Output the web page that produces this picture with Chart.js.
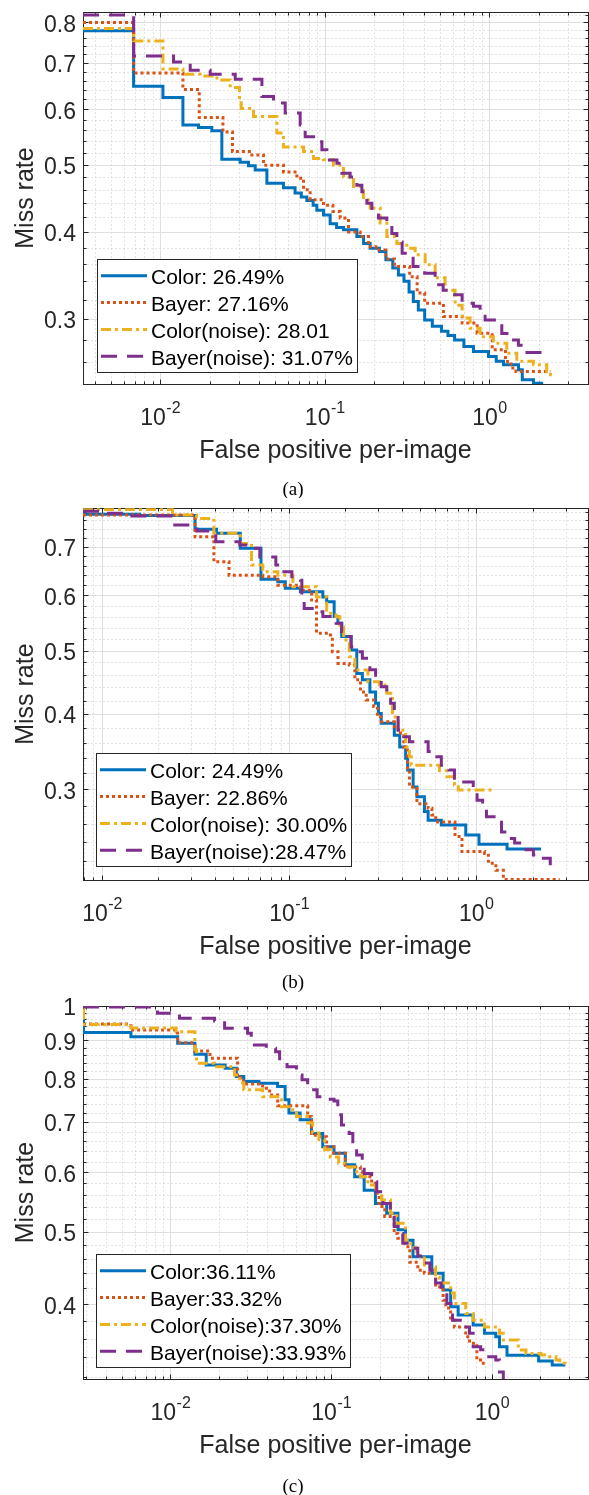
<!DOCTYPE html>
<html>
<head>
<meta charset="utf-8">
<title>Miss rate vs false positives per image</title>
<script src="https://cdn.jsdelivr.net/npm/chart.js@4.4.1/dist/chart.umd.min.js"></script>
<style>
  html, body { margin: 0; padding: 0; background: #fff; }
  body { width: 589px; height: 1495px; position: relative; overflow: hidden; }
  canvas { position: absolute; left: 0; }
</style>
</head>
<body>
<canvas id="chartA" width="589" height="498" style="top:0px"></canvas>
<canvas id="chartB" width="589" height="498" style="top:498px"></canvas>
<canvas id="chartC" width="589" height="499" style="top:996px"></canvas>
<script>
// ==============================================
// DATA  [false positives per image, miss rate]
// ==============================================
const A_COLOR = [[0.0034,0.778],[0.0069,0.648],[0.0104,0.624],[0.01375,0.570],[0.0171,0.565],[0.0206,0.559],[0.0237,0.509],[0.0306,0.504],[0.0344,0.498],[0.0378,0.491],[0.0445,0.470],[0.0561,0.463],[0.066,0.455],[0.072,0.449],[0.0778,0.444],[0.085,0.437],[0.0895,0.430],[0.0982,0.423],[0.1078,0.411],[0.118,0.406],[0.1299,0.403],[0.1566,0.394],[0.172,0.385],[0.1887,0.379],[0.2151,0.375],[0.235,0.365],[0.2588,0.355],[0.28,0.347],[0.3027,0.340],[0.325,0.328],[0.345,0.318],[0.37,0.309],[0.4043,0.299],[0.45,0.293],[0.512,0.288],[0.56,0.284],[0.6146,0.280],[0.70,0.274],[0.80,0.2695],[0.987,0.265],[1.10,0.261],[1.218,0.258],[1.502,0.2537],[1.584,0.2454],[1.853,0.2427],[2.12,0.2427]];
const A_BAYER = [[0.0034,0.800],[0.0069,0.677],[0.01375,0.641],[0.01728,0.584],[0.02406,0.557],[0.02751,0.522],[0.03608,0.516],[0.04244,0.499],[0.0561,0.488],[0.0677,0.478],[0.0743,0.460],[0.0815,0.445],[0.0982,0.437],[0.112,0.428],[0.1241,0.419],[0.1393,0.400],[0.164,0.394],[0.1842,0.381],[0.2043,0.377],[0.235,0.366],[0.2653,0.357],[0.3277,0.345],[0.3639,0.327],[0.4043,0.316],[0.5257,0.3025],[0.6828,0.296],[0.842,0.2863],[1.04,0.2711],[1.251,0.2607],[1.352,0.2551],[1.45,0.2522],[2.346,0.2522]];
const A_COLOR_NOISE = [[0.0034,0.784],[0.0069,0.752],[0.0104,0.686],[0.01375,0.674],[0.01752,0.670],[0.02213,0.661],[0.02664,0.645],[0.03034,0.619],[0.03107,0.602],[0.0369,0.586],[0.05118,0.555],[0.0561,0.530],[0.0743,0.522],[0.0854,0.510],[0.0982,0.508],[0.1129,0.499],[0.1299,0.480],[0.1493,0.465],[0.1718,0.445],[0.1887,0.433],[0.217,0.412],[0.2382,0.394],[0.274,0.385],[0.3151,0.379],[0.3539,0.371],[0.4071,0.359],[0.4681,0.344],[0.5383,0.330],[0.6189,0.314],[0.6828,0.301],[0.7636,0.291],[0.878,0.283],[1.057,0.277],[1.275,0.268],[1.467,0.261],[1.85,0.258],[2.231,0.252],[2.35,0.2495],[2.403,0.2495]];
const A_BAYER_NOISE = [[0.0034,0.820],[0.0069,0.716],[0.01206,0.702],[0.01523,0.683],[0.02014,0.674],[0.02858,0.663],[0.04151,0.626],[0.04882,0.613],[0.05749,0.593],[0.07089,0.570],[0.07603,0.548],[0.0895,0.539],[0.09603,0.525],[0.103,0.5075],[0.1185,0.502],[0.127,0.486],[0.1426,0.480],[0.1566,0.467],[0.168,0.457],[0.1802,0.440],[0.1932,0.428],[0.2119,0.419],[0.2382,0.409],[0.2555,0.398],[0.274,0.387],[0.2951,0.373],[0.344,0.357],[0.4043,0.349],[0.4681,0.336],[0.5235,0.330],[0.5855,0.325],[0.6828,0.316],[0.7996,0.313],[0.878,0.306],[0.9417,0.299],[1.129,0.296],[1.189,0.286],[1.368,0.280],[1.5,0.275],[1.647,0.2686],[2.336,0.2686]];

const B_COLOR = [[0.00791,0.774],[0.0159,0.771],[0.0314,0.739],[0.0409,0.730],[0.0548,0.697],[0.0707,0.632],[0.087,0.627],[0.0954,0.614],[0.1148,0.607],[0.1514,0.597],[0.1587,0.588],[0.174,0.560],[0.1822,0.548],[0.1909,0.524],[0.2143,0.501],[0.2298,0.462],[0.2462,0.452],[0.2701,0.433],[0.2897,0.416],[0.30,0.401],[0.3105,0.387],[0.3648,0.370],[0.39,0.354],[0.4194,0.339],[0.43,0.324],[0.4599,0.303],[0.4818,0.291],[0.5284,0.274],[0.5531,0.264],[0.6506,0.2586],[0.8788,0.2476],[1.034,0.2376],[1.461,0.2327],[2.218,0.2327]];
const B_BAYER = [[0.00791,0.772],[0.0314,0.722],[0.0396,0.668],[0.0477,0.640],[0.0723,0.637],[0.087,0.620],[0.1148,0.610],[0.1319,0.591],[0.14,0.530],[0.1663,0.524],[0.1702,0.498],[0.1824,0.4785],[0.2096,0.4757],[0.2245,0.452],[0.2406,0.433],[0.2581,0.421],[0.283,0.411],[0.2962,0.396],[0.3105,0.389],[0.3648,0.382],[0.3823,0.373],[0.4096,0.354],[0.4292,0.324],[0.4394,0.303],[0.4818,0.283],[0.5531,0.2775],[0.5796,0.270],[0.6073,0.262],[0.77,0.246],[0.8386,0.230],[1.108,0.228],[1.161,0.218],[1.273,0.211],[1.396,0.202],[2.793,0.202]];
const B_COLOR_NOISE = [[0.00791,0.785],[0.0238,0.772],[0.032,0.764],[0.0396,0.730],[0.0548,0.707],[0.0629,0.661],[0.0723,0.647],[0.087,0.640],[0.1047,0.617],[0.140,0.597],[0.1587,0.566],[0.1781,0.5596],[0.1867,0.541],[0.1954,0.518],[0.2096,0.4895],[0.2245,0.4676],[0.2638,0.449],[0.3033,0.4438],[0.3325,0.431],[0.3567,0.396],[0.3823,0.377],[0.4194,0.354],[0.4394,0.341],[0.4492,0.330],[0.6356,0.323],[0.6971,0.3156],[0.7647,0.3053],[0.8012,0.2992],[1.215,0.2992]];
const B_BAYER_NOISE = [[0.00791,0.781],[0.00972,0.776],[0.01406,0.770],[0.02447,0.749],[0.0321,0.735],[0.04055,0.711],[0.05451,0.704],[0.06164,0.697],[0.06969,0.678],[0.08489,0.661],[0.08921,0.647],[0.1034,0.637],[0.1148,0.630],[0.1169,0.601],[0.1203,0.575],[0.1382,0.569],[0.1514,0.560],[0.1781,0.548],[0.1909,0.533],[0.2,0.524],[0.2143,0.506],[0.2298,0.498],[0.2462,0.487],[0.2701,0.468],[0.2897,0.457],[0.3105,0.441],[0.3325,0.433],[0.3485,0.416],[0.3648,0.401],[0.3823,0.377],[0.4096,0.368],[0.4394,0.361],[0.5531,0.348],[0.5933,0.341],[0.6506,0.330],[0.7145,0.324],[0.7647,0.309],[0.9637,0.301],[1.01,0.287],[1.082,0.279],[1.134,0.268],[1.301,0.264],[1.364,0.251],[1.461,0.244],[1.604,0.239],[1.844,0.232],[2.02,0.2265],[2.218,0.223],[2.487,0.216]];

const C_COLOR = [[0.00286,0.960],[0.00288,0.922],[0.00568,0.910],[0.0111,0.892],[0.0142,0.862],[0.0167,0.834],[0.0219,0.826],[0.0257,0.805],[0.0286,0.793],[0.0355,0.789],[0.0464,0.781],[0.0517,0.750],[0.0546,0.720],[0.0641,0.705],[0.0754,0.676],[0.0886,0.649],[0.1041,0.636],[0.1224,0.614],[0.140,0.592],[0.1603,0.568],[0.1884,0.545],[0.2213,0.529],[0.2602,0.503],[0.2897,0.487],[0.3227,0.463],[0.4224,0.440],[0.4967,0.418],[0.5533,0.397],[0.6161,0.387],[0.7637,0.3755],[0.8982,0.366],[1.056,0.362],[1.113,0.351],[1.24,0.342],[1.95,0.336],[2.37,0.332],[2.86,0.332]];
const C_BAYER = [[0.00286,0.946],[0.00568,0.929],[0.01107,0.893],[0.01419,0.871],[0.01762,0.852],[0.02617,0.802],[0.02851,0.787],[0.03746,0.777],[0.04141,0.761],[0.04644,0.736],[0.0714,0.712],[0.07539,0.676],[0.07962,0.669],[0.09348,0.649],[0.1036,0.636],[0.1224,0.610],[0.1518,0.601],[0.156,0.592],[0.1785,0.580],[0.1884,0.5625],[0.1987,0.540],[0.2153,0.524],[0.2464,0.497],[0.2594,0.490],[0.2897,0.4775],[0.3082,0.455],[0.3456,0.444],[0.3794,0.440],[0.4461,0.422],[0.4967,0.405],[0.5164,0.3955],[0.5533,0.381],[0.5833,0.373],[0.686,0.362],[0.7244,0.355],[0.8053,0.337],[0.8503,0.3337],[0.9229,0.3337]];
const C_COLOR_NOISE = [[0.00286,0.988],[0.00288,0.945],[0.00568,0.935],[0.01085,0.924],[0.01419,0.874],[0.01454,0.839],[0.01882,0.830],[0.02506,0.809],[0.02694,0.790],[0.0286,0.773],[0.03746,0.757],[0.04644,0.750],[0.04896,0.734],[0.05461,0.727],[0.0608,0.712],[0.0714,0.698],[0.0767,0.677],[0.08395,0.663],[0.09111,0.643],[0.09872,0.629],[0.1113,0.617],[0.1224,0.610],[0.14,0.601],[0.1518,0.592],[0.1688,0.577],[0.1884,0.565],[0.2063,0.551],[0.2336,0.529],[0.2557,0.513],[0.2897,0.487],[0.3126,0.476],[0.3406,0.464],[0.3794,0.449],[0.4461,0.435],[0.4705,0.427],[0.5533,0.414],[0.5833,0.401],[0.686,0.389],[0.7637,0.381],[0.8982,0.373],[1.113,0.366],[1.176,0.3585],[1.458,0.3476],[1.626,0.344],[2.016,0.3423],[2.126,0.3405],[2.5,0.337],[2.636,0.3337],[2.86,0.332]];
const C_BAYER_NOISE = [[0.00286,0.997],[0.00831,0.978],[0.01139,0.963],[0.01882,0.955],[0.02173,0.934],[0.0302,0.920],[0.03184,0.887],[0.03948,0.878],[0.04512,0.869],[0.04778,0.843],[0.05313,0.830],[0.0608,0.809],[0.06589,0.797],[0.0714,0.773],[0.08172,0.757],[0.08855,0.751],[0.1041,0.747],[0.1099,0.716],[0.1159,0.694],[0.1293,0.676],[0.1363,0.656],[0.1439,0.633],[0.156,0.617],[0.1603,0.598],[0.1785,0.583],[0.192,0.565],[0.2099,0.545],[0.2336,0.529],[0.2464,0.508],[0.2602,0.497],[0.2787,0.4825],[0.3059,0.475],[0.3456,0.464],[0.3794,0.454],[0.4111,0.444],[0.4461,0.427],[0.4834,0.418],[0.5238,0.401],[0.5684,0.381],[0.6495,0.373],[0.7244,0.366],[0.7637,0.351],[0.8503,0.348],[0.9229,0.3405],[1.056,0.337],[1.113,0.325],[1.176,0.316]];

const LEGEND_A = ['Color: 26.49%', 'Bayer: 27.16%', 'Color(noise): 28.01', 'Bayer(noise): 31.07%'];
const LEGEND_B = ['Color: 24.49%', 'Bayer: 22.86%', 'Color(noise): 30.00%', 'Bayer(noise):28.47%'];
const LEGEND_C = ['Color:36.11%', 'Bayer:33.32%', 'Color(noise):37.30%', 'Bayer(noise):33.93%'];

const X_TICKS = [0.01, 0.1, 1];
const X_TICK_EXP = ['-2', '-1', '0'];
const A_Y_TICKS = [0.3, 0.4, 0.5, 0.6, 0.7, 0.8];
const B_Y_TICKS = [0.3, 0.4, 0.5, 0.6, 0.7];
const C_Y_TICKS = [0.4, 0.5, 0.6, 0.7, 0.8, 0.9, 1];

const X_TITLE = 'False positive per-image';
const Y_TITLE = 'Miss rate';

// panel (b) miss-rate axis is logarithmic in (miss rate + offset)
const B_Y_OFFSET = 0.2;

// ==============================================
// STYLE
// ==============================================
const STYLES = [
    { color: '#0072BD', dash: [] },
    { color: '#D95319', dash: [3, 3] },
    { color: '#EDB120', dash: [10, 4, 3, 4] },
    { color: '#7E2F8E', dash: [16, 10] }
];
const SANS = '"Liberation Sans", Arial, Helvetica, sans-serif';
const TICK_FONT = '23px ' + SANS;
const EXP_FONT = '16px ' + SANS;
const TITLE_FONT = '25px ' + SANS;
const LEGEND_FONT = '21px ' + SANS;
const CAPTION_FONT = '19px "Liberation Serif", "Times New Roman", serif';
const AXIS_COLOR = '#262626';

const PANELS = [
    { id: 'chartA', series: [A_COLOR, A_BAYER, A_COLOR_NOISE, A_BAYER_NOISE], legend: LEGEND_A,
      xRange: [0.0034, 3.97], yRange: [0.242, 0.828], yTicks: A_Y_TICKS, yType: 'logarithmic',
      pad: { left: 83, top: 12, right: 1, bottom: 114 },
      legendBox: { x: 97, y: 259.3, h: 113.4 }, caption: '(a)', captionY: 490 },
    { id: 'chartB', series: [B_COLOR, B_BAYER, B_COLOR_NOISE, B_BAYER_NOISE], legend: LEGEND_B,
      xRange: [0.00791, 3.956], yRange: [0.2014, 0.788], yTicks: B_Y_TICKS, yType: 'shiftedLog',
      pad: { left: 83, top: 10.3, right: 1, bottom: 116 },
      legendBox: { x: 96, y: 255.3, h: 112.7 }, caption: '(b)', captionY: 485.3 },
    { id: 'chartC', series: [C_COLOR, C_BAYER, C_COLOR_NOISE, C_BAYER_NOISE], legend: LEGEND_C,
      xRange: [0.00286, 3.955], yRange: [0.318, 1.0], yTicks: C_Y_TICKS, yType: 'logarithmic',
      pad: { left: 83, top: 10, right: 1, bottom: 116 },
      legendBox: { x: 96, y: 258.3, h: 113.4 }, caption: '(c)', captionY: 490.7 }
];

// ==============================================
// CUSTOM SCALE (log of value + offset)
// ==============================================
const BaseLinear = Chart.LinearScale || Chart.registry.getScale('linear');
class ShiftedLogScale extends BaseLinear {
    getPixelForValue(value) {
        const a = Math.log10(this.min + B_Y_OFFSET);
        const b = Math.log10(this.max + B_Y_OFFSET);
        return this.getPixelForDecimal((Math.log10(value + B_Y_OFFSET) - a) / (b - a));
    }
    getValueForPixel(pixel) {
        const a = Math.log10(this.min + B_Y_OFFSET);
        const b = Math.log10(this.max + B_Y_OFFSET);
        return Math.pow(10, a + this.getDecimalForPixel(pixel) * (b - a)) - B_Y_OFFSET;
    }
}
ShiftedLogScale.id = 'shiftedLog';
Chart.register(ShiftedLogScale);

// ==============================================
// AXES / GRID / LEGEND PLUGIN
// ==============================================
const crisp = v => Math.round(v) + 0.5;

function minorX(min, max) {
    const out = [];
    for (let e = -4; e <= 1; e++) {
        for (let m = 2; m <= 9; m++) {
            const v = m * Math.pow(10, e);
            if (v > min && v < max) out.push(v);
        }
    }
    return out;
}

function minorY(min, max) {
    const out = [];
    for (let k = 1; k <= 60; k++) {
        if (k % 5 === 0) continue;
        const v = k * 0.02;
        if (v > min && v < max) out.push(v);
    }
    return out;
}

function makeAxesPlugin(panel) {
    return {
        id: 'matlabAxes',
        beforeDatasetsDraw(chart) {
            const { ctx, chartArea: a } = chart;
            const x = chart.scales.x, y = chart.scales.y;
            const L = crisp(a.left), R = crisp(a.right), T = crisp(a.top), B = crisp(a.bottom);
            const xs = minorX(x.min, x.max).map(v => crisp(x.getPixelForValue(v)));
            const ys = minorY(y.min, y.max).map(v => crisp(y.getPixelForValue(v)));
            const xm = X_TICKS.filter(v => v >= x.min && v <= x.max).map(v => crisp(x.getPixelForValue(v)));
            const ym = panel.yTicks.filter(v => v >= y.min && v <= y.max).map(v => crisp(y.getPixelForValue(v)));

            ctx.save();
            ctx.fillStyle = '#fff';
            ctx.fillRect(a.left, a.top, a.right - a.left, a.bottom - a.top);
            ctx.lineWidth = 1;

            // minor grid
            ctx.strokeStyle = '#c6c6c6';
            ctx.setLineDash([1, 3]);
            ctx.beginPath();
            xs.forEach(p => { ctx.moveTo(p, T); ctx.lineTo(p, B); });
            ys.forEach(p => { ctx.moveTo(L, p); ctx.lineTo(R, p); });
            ctx.stroke();

            // major grid
            ctx.setLineDash([]);
            ctx.strokeStyle = '#dfdfdf';
            ctx.beginPath();
            xm.forEach(p => { ctx.moveTo(p, T); ctx.lineTo(p, B); });
            ym.forEach(p => { ctx.moveTo(L, p); ctx.lineTo(R, p); });
            ctx.stroke();

            // tick marks on all four sides, pointing in
            ctx.strokeStyle = AXIS_COLOR;
            ctx.beginPath();
            const xTick = (p, len) => { ctx.moveTo(p, B); ctx.lineTo(p, B - len); ctx.moveTo(p, T); ctx.lineTo(p, T + len); };
            const yTick = (p, len) => { ctx.moveTo(L, p); ctx.lineTo(L + len, p); ctx.moveTo(R, p); ctx.lineTo(R - len, p); };
            xs.forEach(p => xTick(p, 3));
            ys.forEach(p => yTick(p, 3));
            xm.forEach(p => xTick(p, 5));
            ym.forEach(p => yTick(p, 5));
            ctx.stroke();
            ctx.strokeRect(L, T, R - L, B - T);
            ctx.restore();
        },
        afterDatasetsDraw(chart) {
            const { ctx, chartArea: a } = chart;
            const x = chart.scales.x, y = chart.scales.y;
            ctx.save();
            ctx.fillStyle = AXIS_COLOR;

            // y tick labels
            ctx.font = TICK_FONT;
            ctx.textAlign = 'right';
            ctx.textBaseline = 'alphabetic';
            panel.yTicks.forEach(v => {
                if (v < y.min || v > y.max) return;
                const p = y.getPixelForValue(v);
                ctx.fillText(v === 1 ? '1' : v.toFixed(1), a.left - 7, p + 9.2);
            });

            // x tick labels 10^n
            ctx.textAlign = 'left';
            X_TICKS.forEach((v, i) => {
                if (v < x.min || v > x.max) return;
                const p = x.getPixelForValue(v);
                ctx.font = TICK_FONT;
                const w1 = ctx.measureText('10').width;
                ctx.font = EXP_FONT;
                const w2 = ctx.measureText(X_TICK_EXP[i]).width;
                const start = p - (w1 + w2) / 2;
                ctx.font = TICK_FONT;
                ctx.fillText('10', start, a.bottom + 41);
                ctx.font = EXP_FONT;
                ctx.fillText(X_TICK_EXP[i], start + w1 + 0.5, a.bottom + 29);
            });

            // axis titles
            ctx.font = TITLE_FONT;
            ctx.textAlign = 'center';
            ctx.fillText(X_TITLE, (a.left + a.right) / 2, a.bottom + 74);
            ctx.save();
            ctx.translate(33, (a.top + a.bottom) / 2);
            ctx.rotate(-Math.PI / 2);
            ctx.fillText(Y_TITLE, 0, 0);
            ctx.restore();

            // legend
            const box = panel.legendBox;
            ctx.font = LEGEND_FONT;
            const textW = Math.max(...panel.legend.map(t => ctx.measureText(t).width));
            const w = Math.round(54 + textW + 4);
            ctx.fillStyle = '#fff';
            ctx.fillRect(box.x, box.y, w, box.h);
            ctx.lineWidth = 1;
            ctx.strokeStyle = AXIS_COLOR;
            ctx.strokeRect(crisp(box.x), crisp(box.y), w, Math.round(box.h));
            ctx.textAlign = 'left';
            panel.legend.forEach((label, i) => {
                const cy = box.y + 17.5 + i * 26.8;
                ctx.strokeStyle = STYLES[i].color;
                ctx.lineWidth = 3;
                ctx.setLineDash(STYLES[i].dash);
                ctx.beginPath();
                ctx.moveTo(box.x + 4, cy - 1);
                ctx.lineTo(box.x + 50, cy - 1);
                ctx.stroke();
                ctx.setLineDash([]);
                ctx.fillStyle = '#000';
                ctx.fillText(label, box.x + 54, cy + 7.5);
            });

            // caption
            ctx.font = CAPTION_FONT;
            ctx.fillStyle = '#000';
            ctx.textAlign = 'center';
            ctx.fillText(panel.caption, 293, panel.captionY + 5);
            ctx.restore();
        }
    };
}

// ==============================================
// CHARTS
// ==============================================
function buildChart(panel) {
    const datasets = panel.series.map((pts, i) => ({
        label: panel.legend[i],
        data: pts.map(p => ({ x: p[0], y: p[1] })),
        borderColor: STYLES[i].color,
        borderDash: STYLES[i].dash,
        borderWidth: 3,
        borderCapStyle: 'butt',
        borderJoinStyle: 'miter',
        stepped: 'before',
        pointRadius: 0,
        fill: false,
        order: 3 - i
    }));

    new Chart(document.getElementById(panel.id), {
        type: 'line',
        data: { datasets },
        options: {
            responsive: false,
            animation: false,
            devicePixelRatio: 1,
            events: [],
            layout: { padding: panel.pad },
            scales: {
                x: { type: 'logarithmic', min: panel.xRange[0], max: panel.xRange[1], bounds: 'data', display: false },
                y: { type: panel.yType, min: panel.yRange[0], max: panel.yRange[1], bounds: 'data', display: false }
            },
            plugins: {
                legend: { display: false },
                tooltip: { enabled: false },
                title: { display: false }
            }
        },
        plugins: [makeAxesPlugin(panel)]
    });
}

PANELS.forEach(buildChart);
</script>
</body>
</html>
